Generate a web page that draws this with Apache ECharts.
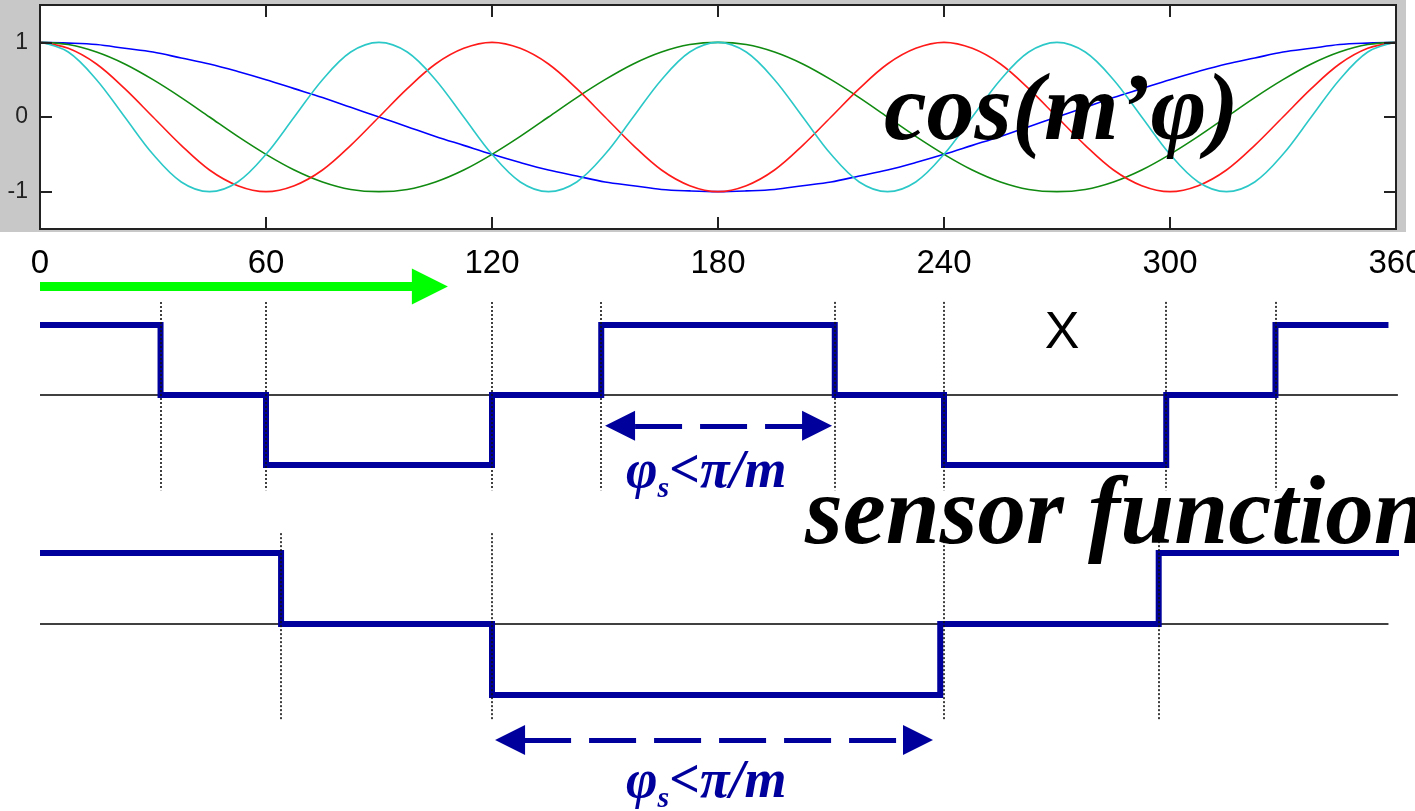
<!DOCTYPE html>
<html>
<head>
<meta charset="utf-8">
<script src="https://cdn.jsdelivr.net/npm/echarts@6/dist/echarts.min.js"></script>
<style>html,body{margin:0;padding:0;background:#fff}#c{width:1415px;height:811px}</style>
</head>
<body>
<div id="c"></div>
<script>
// ---- data ----
const xTicks = [0, 60, 120, 180, 240, 300, 360];
const yTicks = [-1, 0, 1];
const phi = [0,7.5,15,22.5,30,37.5,45,52.5,60,67.5,75,82.5,90,97.5,105,112.5,120,127.5,135,142.5,150,157.5,165,172.5,180,187.5,195,202.5,210,217.5,225,232.5,240,247.5,255,262.5,270,277.5,285,292.5,300,307.5,315,322.5,330,337.5,345,352.5,360];
const cosM1 = [1,0.99,0.97,0.92,0.87,0.79,0.71,0.61,0.5,0.38,0.26,0.13,0,-0.13,-0.26,-0.38,-0.5,-0.61,-0.71,-0.79,-0.87,-0.92,-0.97,-0.99,-1,-0.99,-0.97,-0.92,-0.87,-0.79,-0.71,-0.61,-0.5,-0.38,-0.26,-0.13,0,0.13,0.26,0.38,0.5,0.61,0.71,0.79,0.87,0.92,0.97,0.99,1];
const cosM2 = [1,0.97,0.87,0.71,0.5,0.26,0,-0.26,-0.5,-0.71,-0.87,-0.97,-1,-0.97,-0.87,-0.71,-0.5,-0.26,0,0.26,0.5,0.71,0.87,0.97,1,0.97,0.87,0.71,0.5,0.26,0,-0.26,-0.5,-0.71,-0.87,-0.97,-1,-0.97,-0.87,-0.71,-0.5,-0.26,0,0.26,0.5,0.71,0.87,0.97,1];
const cosM3 = [1,0.92,0.71,0.38,0,-0.38,-0.71,-0.92,-1,-0.92,-0.71,-0.38,0,0.38,0.71,0.92,1,0.92,0.71,0.38,0,-0.38,-0.71,-0.92,-1,-0.92,-0.71,-0.38,0,0.38,0.71,0.92,1,0.92,0.71,0.38,0,-0.38,-0.71,-0.92,-1,-0.92,-0.71,-0.38,0,0.38,0.71,0.92,1];
const cosM4 = [1,0.87,0.5,0,-0.5,-0.87,-1,-0.87,-0.5,0,0.5,0.87,1,0.87,0.5,0,-0.5,-0.87,-1,-0.87,-0.5,0,0.5,0.87,1,0.87,0.5,0,-0.5,-0.87,-1,-0.87,-0.5,0,0.5,0.87,1,0.87,0.5,0,-0.5,-0.87,-1,-0.87,-0.5,0,0.5,0.87,1];
// sensor functions (x in degrees, level -1/0/1)
const sensorA = [[0,1],[32,1],[32,0],[60,0],[60,-1],[120,-1],[120,0],[149,0],[149,1],[211,1],[211,0],[240,0],[240,-1],[299,-1],[299,0],[328,0],[328,1],[358,1]];
const sensorB = [[0,1],[64,1],[64,0],[120,0],[120,-1],[239,-1],[239,0],[297,0],[297,1],[362,1]];
const edgesA = [32, 60, 120, 149, 211, 240, 299, 328];
const edgesB = [64, 120, 240, 297];
const spanA = [154, 206.3];   // arrow (between symbol centres)
const spanB = [124.8, 233.1];
const greenArrow = [0, 103.5];

// ---- build ----
const zip = (ys) => phi.map((x, i) => [x, ys[i]]);
const blue = '#00009c';
const serifFont = '"Liberation Serif","Times New Roman",serif';

function vLines(edges, y1, y2) {
  return edges.map(e => [{coord: [e, y1]}, {coord: [e, y2]}]);
}
function hiddenAxis(gi, extra) { return Object.assign({gridIndex: gi, type: 'value', show: false}, extra); }

const frameLine = {show: true, onZero: false, lineStyle: {color: '#222', width: 2}};
const innerTick = (vals) => ({show: true, inside: true, length: 12, customValues: vals, lineStyle: {color: '#222', width: 2}});

const curveSeries = [
  {d: cosM1, c: '#0000ff'}, {d: cosM2, c: '#108a10'}, {d: cosM3, c: '#ff1a1a'}, {d: cosM4, c: '#2cc8c8'}
].map(s => ({
  type: 'line', xAxisIndex: 0, yAxisIndex: 0, data: zip(s.d), showSymbol: false, smooth: 0.35,
  lineStyle: {color: s.c, width: 1.6}, silent: true
}));

const labelFont = '"Liberation Sans",Arial,sans-serif';
const option = {
  animation: false,
  backgroundColor: '#ffffff',
  grid: [
    {left: 40, top: 5, width: 1356, height: 224, show: true, backgroundColor: '#ffffff', borderColor: '#222', borderWidth: 2, outerBoundsMode: 'none', containLabel: false},
    {left: 40, top: 280, width: 1356, height: 230, outerBoundsMode: 'none', containLabel: false},
    {left: 40, top: 520, width: 1356, height: 285, outerBoundsMode: 'none', containLabel: false}
  ],
  xAxis: [
    {gridIndex: 0, type: 'value', min: 0, max: 360, interval: 60, position: 'bottom', z: 5,
      axisLine: frameLine, axisTick: innerTick(xTicks), splitLine: {show: false},
      axisLabel: {customValues: xTicks, margin: 18, fontSize: 33, color: '#000', fontFamily: labelFont}},
    {gridIndex: 0, type: 'value', min: 0, max: 360, interval: 60, position: 'top', z: 5,
      axisLine: frameLine, axisTick: innerTick(xTicks), axisLabel: {show: false}, splitLine: {show: false}},
    hiddenAxis(1, {min: 0, max: 360}),
    hiddenAxis(2, {min: 0, max: 360})
  ],
  yAxis: [
    {gridIndex: 0, type: 'value', min: -1.5, max: 1.5, position: 'left', z: 5,
      axisLine: frameLine, axisTick: innerTick(yTicks), splitLine: {show: false},
      axisLabel: {customValues: yTicks, margin: 12, fontSize: 23, color: '#222', fontFamily: labelFont}},
    {gridIndex: 0, type: 'value', min: -1.5, max: 1.5, position: 'right', z: 5,
      axisLine: frameLine, axisTick: innerTick(yTicks), axisLabel: {show: false}, splitLine: {show: false}},
    hiddenAxis(1, {min: -1.643, max: 1.643}),
    hiddenAxis(2, {min: -2.55, max: 1.465})
  ],
  series: curveSeries.concat([
    // grid 1: baseline + dotted markers + green arrow
    {type: 'line', xAxisIndex: 2, yAxisIndex: 2, data: [[0, 0], [360.5, 0]], showSymbol: false, silent: true,
      lineStyle: {color: '#000', width: 1.5}, clip: false,
      markLine: {silent: true, symbol: 'none', label: {show: false}, animation: false,
        lineStyle: {color: '#111', width: 1.6, type: [2, 2]},
        data: vLines(edgesA, 1.33, -1.36).concat([
          [{coord: [greenArrow[0], 1.55], symbol: 'none'},
           {coord: [greenArrow[1], 1.55], symbol: 'triangle', symbolSize: [36, 36],
            lineStyle: {color: '#00ff00', width: 9, type: 'solid'}}]
        ])}},
    {type: 'line', xAxisIndex: 2, yAxisIndex: 2, data: sensorA, showSymbol: false, silent: true, clip: false,
      lineStyle: {color: blue, width: 6, join: 'miter', cap: 'butt'},
      markLine: {silent: true, symbol: ['triangle', 'triangle'], symbolSize: [30, 30], label: {show: false}, animation: false,
        lineStyle: {color: blue, width: 5, type: [47, 18], dashOffset: 50},
        data: [[{coord: [spanA[0], -0.44]}, {coord: [spanA[1], -0.44]}]]}},
    // grid 2
    {type: 'line', xAxisIndex: 3, yAxisIndex: 3, data: [[0, 0], [358, 0]], showSymbol: false, silent: true,
      lineStyle: {color: '#000', width: 1.5},
      markLine: {silent: true, symbol: 'none', label: {show: false}, animation: false,
        lineStyle: {color: '#111', width: 1.6, type: [2, 2]},
        data: vLines(edgesB, 1.28, -1.35)}},
    {type: 'line', xAxisIndex: 3, yAxisIndex: 3, data: sensorB, showSymbol: false, silent: true, clip: false,
      lineStyle: {color: blue, width: 6, join: 'miter', cap: 'butt'},
      markLine: {silent: true, symbol: ['triangle', 'triangle'], symbolSize: [30, 30], label: {show: false}, animation: false,
        lineStyle: {color: blue, width: 5, type: [47, 18], dashOffset: 51},
        data: [[{coord: [spanB[0], -1.634]}, {coord: [spanB[1], -1.634]}]]}}
  ]),
  graphic: [
    {type: 'rect', z: -10, silent: true, shape: {x: 0, y: 0, width: 1406, height: 232}, style: {fill: '#c8c8c8'}},
    {type: 'text', z: 100, silent: true, x: 884, y: 114,
      style: {text: 'cos(m’φ)', font: 'italic bold 96px ' + serifFont, fill: '#000', textAlign: 'left', textVerticalAlign: 'middle', align: 'left', verticalAlign: 'middle'}},
    {type: 'text', z: 100, silent: true, x: 805, y: 518,
      style: {text: 'sensor function', font: 'italic bold 97px ' + serifFont, fill: '#000', textAlign: 'left', textVerticalAlign: 'middle', align: 'left', verticalAlign: 'middle'}},
    {type: 'text', z: 100, silent: true, x: 1062, y: 334,
      style: {text: 'X', font: '52px ' + labelFont, fill: '#000', textAlign: 'center', textVerticalAlign: 'middle', align: 'center', verticalAlign: 'middle'}},
    {type: 'text', z: 100, silent: true, x: 626, y: 446,
      style: {text: '{a|φ}{b|s}{a|<π/m}', fill: blue,
        rich: {a: {font: 'italic bold 54px ' + serifFont, fill: blue, lineHeight: 52, verticalAlign: 'top'},
               b: {font: 'italic bold 30px ' + serifFont, fill: blue, lineHeight: 30, verticalAlign: 'top', padding: [28, 0, 0, 0]}}}},
    {type: 'text', z: 100, silent: true, x: 626, y: 756,
      style: {text: '{a|φ}{b|s}{a|<π/m}', fill: blue,
        rich: {a: {font: 'italic bold 54px ' + serifFont, fill: blue, lineHeight: 52, verticalAlign: 'top'},
               b: {font: 'italic bold 30px ' + serifFont, fill: blue, lineHeight: 30, verticalAlign: 'top', padding: [28, 0, 0, 0]}}}}
  ]
};

const chart = echarts.init(document.getElementById('c'), null, {renderer: 'canvas'});
chart.setOption(option);
</script>
</body>
</html>
